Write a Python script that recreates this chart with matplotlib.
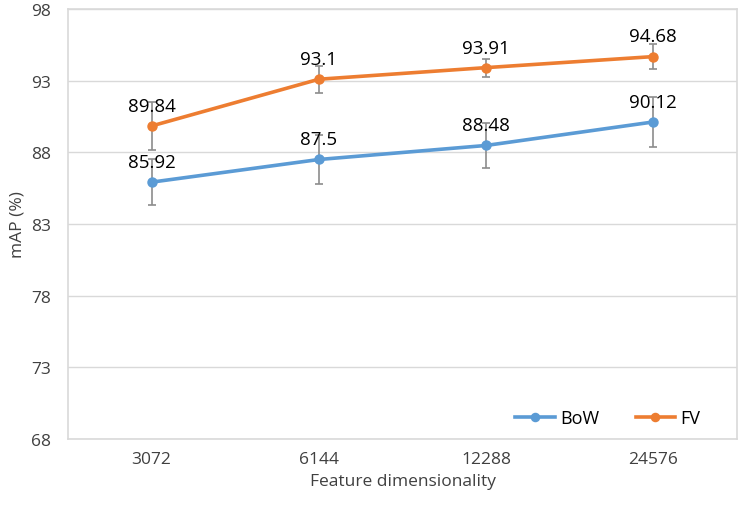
import matplotlib
matplotlib.use("Agg")
import matplotlib.pyplot as plt

categories = ["3072", "6144", "12288", "24576"]
bow = [85.92, 87.5, 88.48, 90.12]
bow_err = [1.6, 1.7, 1.57, 1.77]
fv = [89.84, 93.1, 93.91, 94.68]
fv_err = [1.7, 0.95, 0.62, 0.89]
yticks = [68, 73, 78, 83, 88, 93, 98]

plt.rcParams['font.family'] = ['Open Sans', 'DejaVu Sans']

fig = plt.figure(figsize=(7.41, 5.10), dpi=100)
ax = fig.add_axes([68/741, 1-440/510, (737-68)/741, (440-10)/510])

x = list(range(len(categories)))
c_bow = '#5B9BD5'
c_fv = '#ED7D31'
for vals, errs, col, lab in [(bow, bow_err, c_bow, 'BoW'), (fv, fv_err, c_fv, 'FV')]:
    ax.errorbar(x, vals, yerr=errs, fmt='none', ecolor='#8c8c8c', elinewidth=1.2,
                capsize=3, capthick=1.2, zorder=2)
    ax.plot(x, vals, color=col, lw=2.6, marker='o', ms=6.5, label=lab, zorder=3)
    for xi, v in zip(x, vals):
        ax.annotate(f"{v:g}", (xi, v), xytext=(0, 8), textcoords='offset points',
                    ha='center', va='bottom', fontsize=13.5, color='#000000', zorder=4)

ax.set_xlim(-0.5, len(categories)-0.5)
ax.set_ylim(68, 98)
ax.set_yticks(yticks)
ax.set_xticks(x)
ax.set_xticklabels(categories)
ax.grid(axis='y', color='#d9d9d9', lw=1)
ax.set_axisbelow(True)
for s in ['top', 'right', 'bottom', 'left']:
    ax.spines[s].set_color('#d9d9d9')
    ax.spines[s].set_linewidth(1.2)
ax.tick_params(axis='both', length=0, labelsize=12.5, colors='#404040')
ax.tick_params(axis='y', pad=12)
ax.tick_params(axis='x', pad=9)
ax.set_ylabel('mAP (%)', fontsize=12.5, color='#404040', labelpad=4)
ax.set_xlabel('Feature dimensionality', fontsize=12.5, color='#404040', labelpad=4)
ax.legend(loc='lower right', bbox_to_anchor=(0.97, -0.01), ncol=2, frameon=False,
          fontsize=13, handlelength=2.2, columnspacing=2.0, handletextpad=0.3,
          markerscale=0.9)

fig.savefig('out.png', dpi=100)
